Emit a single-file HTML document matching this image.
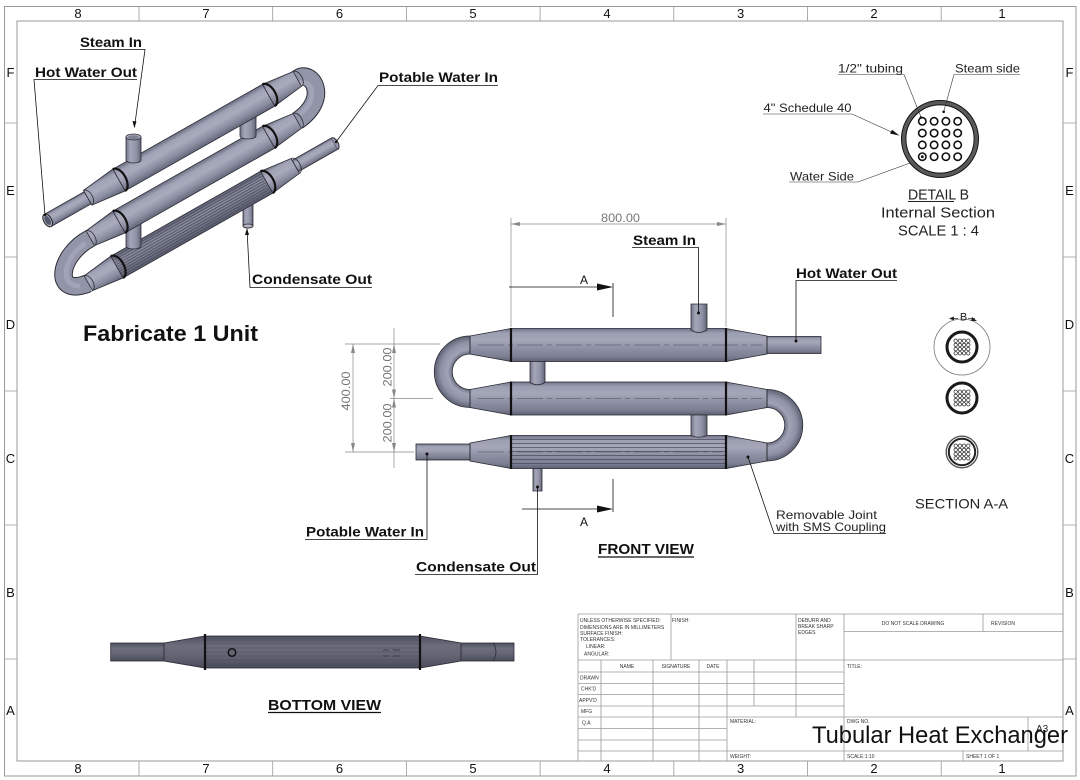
<!DOCTYPE html>
<html><head><meta charset="utf-8"><style>
html,body{margin:0;padding:0;background:#fff;}
svg{display:block;}
text{font-family:"Liberation Sans",sans-serif;}
.b{font-weight:bold;font-size:14px;fill:#111;}
.t{font-size:5px;fill:#333;}
.dim{font-size:12px;fill:#777;}
.ln{stroke:#111;stroke-width:0.8;fill:none;}
.gl{stroke:#999;stroke-width:0.8;fill:none;}
.tb{stroke:#9a9a9a;stroke-width:0.8;fill:none;}
.pk{stroke:#2b2c35;stroke-width:0.8;}
</style></head><body>
<svg width="1080" height="780" viewBox="0 0 1080 780" xmlns="http://www.w3.org/2000/svg">
<defs>
 <linearGradient id="gh" x1="0" y1="0" x2="0" y2="1">
  <stop offset="0" stop-color="#72758a"/><stop offset="0.14" stop-color="#9c9eb1"/>
  <stop offset="0.35" stop-color="#a5a7b9"/><stop offset="0.6" stop-color="#8e91a4"/>
  <stop offset="0.85" stop-color="#7c7f92"/><stop offset="1" stop-color="#5e6172"/>
 </linearGradient>
 <linearGradient id="gv" x1="0" y1="0" x2="1" y2="0">
  <stop offset="0" stop-color="#72758a"/><stop offset="0.3" stop-color="#a5a7b9"/>
  <stop offset="0.7" stop-color="#8e91a4"/><stop offset="1" stop-color="#606375"/>
 </linearGradient>
 <linearGradient id="gi" x1="0" y1="0" x2="0" y2="1">
  <stop offset="0" stop-color="#6a6d80"/><stop offset="0.2" stop-color="#a0a2b5"/>
  <stop offset="0.45" stop-color="#a9abbd"/><stop offset="0.75" stop-color="#8a8da0"/>
  <stop offset="1" stop-color="#636679"/>
 </linearGradient>
 <linearGradient id="gf" x1="0" y1="0" x2="0" y2="1">
  <stop offset="0" stop-color="#5d6072"/><stop offset="0.3" stop-color="#8a8c9f"/>
  <stop offset="0.6" stop-color="#7b7e91"/><stop offset="1" stop-color="#575a6b"/>
 </linearGradient>
 <linearGradient id="gd" x1="0" y1="0" x2="0" y2="1">
  <stop offset="0" stop-color="#4e5060"/><stop offset="0.3" stop-color="#6c6e7d"/>
  <stop offset="0.6" stop-color="#646675"/><stop offset="1" stop-color="#4a4c5a"/>
 </linearGradient>
 <radialGradient id="rgL" gradientUnits="userSpaceOnUse" cx="470" cy="371.75" r="35.75">
  <stop offset="0.5" stop-color="#6f7285"/><stop offset="0.62" stop-color="#a0a2b5"/>
  <stop offset="0.82" stop-color="#8f92a5"/><stop offset="1" stop-color="#5e6172"/>
 </radialGradient>
 <radialGradient id="rgR" gradientUnits="userSpaceOnUse" cx="767" cy="425.25" r="35.75">
  <stop offset="0.5" stop-color="#6f7285"/><stop offset="0.62" stop-color="#a0a2b5"/>
  <stop offset="0.82" stop-color="#8f92a5"/><stop offset="1" stop-color="#5e6172"/>
 </radialGradient>
</defs>

<!-- ========== BORDER ========== -->
<rect x="4.5" y="6.5" width="1071.5" height="769.5" fill="none" stroke="#999" stroke-width="1"/>
<rect x="17" y="21" width="1046" height="740" fill="none" stroke="#999" stroke-width="1"/>
<g class="gl">
 <path d="M139,6.5V21M272.7,6.5V21M406.4,6.5V21M540.1,6.5V21M673.8,6.5V21M807.5,6.5V21M941.2,6.5V21"/>
 <path d="M139,761V776M272.7,761V776M406.4,761V776M540.1,761V776M673.8,761V776M807.5,761V776M941.2,761V776"/>
 <path d="M4.5,123H17M4.5,257H17M4.5,391H17M4.5,525H17M4.5,659H17"/>
 <path d="M1063,123H1076M1063,257H1076M1063,391H1076M1063,525H1076M1063,659H1076"/>
</g>
<g font-size="13" fill="#111" text-anchor="middle">
 <text x="78" y="18">8</text><text x="206" y="18">7</text><text x="339.5" y="18">6</text><text x="473" y="18">5</text>
 <text x="607" y="18">4</text><text x="740.6" y="18">3</text><text x="874" y="18">2</text><text x="1002" y="18">1</text>
 <text x="78" y="773">8</text><text x="206" y="773">7</text><text x="339.5" y="773">6</text><text x="473" y="773">5</text>
 <text x="607" y="773">4</text><text x="740.6" y="773">3</text><text x="874" y="773">2</text><text x="1002" y="773">1</text>
 <text x="10.5" y="77">F</text><text x="10.5" y="195">E</text><text x="10.5" y="329">D</text>
 <text x="10.5" y="463">C</text><text x="10.5" y="597">B</text><text x="10.5" y="715">A</text>
 <text x="1069.5" y="77">F</text><text x="1069.5" y="195">E</text><text x="1069.5" y="329">D</text>
 <text x="1069.5" y="463">C</text><text x="1069.5" y="597">B</text><text x="1069.5" y="715">A</text>
</g>

<!-- ========== ISOMETRIC VIEW ========== -->
<!-- condensate nozzle (under bottom pipe) -->
<path d="M243,195 L243,226 A5,2 0 0 0 253,226 L253,195 Z" fill="url(#gv)" class="pk"/>
<ellipse cx="248" cy="226" rx="5" ry="2" fill="#b4b6c5" stroke="#2b2c35" stroke-width="0.8"/>
<!-- bends -->
<path d="M297.4,78.9 C310,68 332,97 297.4,120.9" fill="none" stroke="#2b2c35" stroke-width="18.5"/>
<path d="M297.4,78.9 C310,68 332,97 297.4,120.9" fill="none" stroke="#9294a8" stroke-width="16.5"/>
<path d="M299,84 C309,77 322,97 300,114" fill="none" stroke="#a8aabc" stroke-width="5" opacity="0.7"/>
<path d="M90.3,238.3 C58,255 52,298 88.3,283.3" fill="none" stroke="#2b2c35" stroke-width="18.5"/>
<path d="M90.3,238.3 C58,255 52,298 88.3,283.3" fill="none" stroke="#9294a8" stroke-width="16.5"/>
<path d="M86,243 C64,256 58,286 80,286" fill="none" stroke="#a8aabc" stroke-width="5" opacity="0.7"/>

<!-- bottom (finned) pipe -->
<g transform="translate(117,267) rotate(-29.54)">
 <polygon points="-33,-8.5 0,-12.5 0,12.5 -33,8.5" fill="url(#gi)" class="pk"/>
 <rect x="0" y="-12.5" width="172" height="25" fill="url(#gf)" class="pk"/>
 <g stroke="#4a4c5a" stroke-width="0.7">
  <path d="M1,-10H171M1,-7.5H171M1,-5H171M1,-2.5H171M1,0H171M1,2.5H171M1,5H171M1,7.5H171M1,10H171"/>
 </g>
 <polygon points="172,-12.5 205,-8.5 205,8.5 172,12.5" fill="url(#gi)" class="pk"/>
 <rect x="205" y="-6.5" width="45" height="13" fill="url(#gi)" class="pk"/>
 <path d="M250,-6.5 A3.7,6.5 0 0 1 250,6.5" fill="#9597aa" stroke="#2b2c35" stroke-width="1"/>
 <path d="M0,-12.5 A7,12.5 0 0 1 0,12.5" fill="none" stroke="#111" stroke-width="2.2"/>
 <path d="M172,-12.5 A7,12.5 0 0 1 172,12.5" fill="none" stroke="#111" stroke-width="2.2"/>
 <path d="M-33,-8.5 A4.9,8.5 0 0 1 -33,8.5" fill="none" stroke="#2b2c35" stroke-width="0.8"/>
 <path d="M205,-8.5 A4.9,8.5 0 0 1 205,8.5" fill="none" stroke="#2b2c35" stroke-width="0.8"/>
</g>
<!-- near nozzle middle-bottom -->
<path d="M126,218 L126,246 A7.5,3 0 0 0 141,246 L141,218 Z" fill="url(#gv)" class="pk"/>
<!-- middle pipe -->
<g transform="translate(119,222) rotate(-29.54)">
 <polygon points="-33,-8.5 0,-12.5 0,12.5 -33,8.5" fill="url(#gi)" class="pk"/>
 <rect x="0" y="-12.5" width="172" height="25" fill="url(#gi)" class="pk"/>
 <polygon points="172,-12.5 205,-8.5 205,8.5 172,12.5" fill="url(#gi)" class="pk"/>
 <path d="M0,-12.5 A7,12.5 0 0 1 0,12.5" fill="none" stroke="#111" stroke-width="2.2"/>
 <path d="M172,-12.5 A7,12.5 0 0 1 172,12.5" fill="none" stroke="#111" stroke-width="2.2"/>
 <path d="M-33,-8.5 A4.9,8.5 0 0 1 -33,8.5" fill="none" stroke="#2b2c35" stroke-width="0.8"/>
 <path d="M205,-8.5 A4.9,8.5 0 0 1 205,8.5" fill="none" stroke="#2b2c35" stroke-width="0.8"/>
</g>
<!-- far nozzle upper-middle -->
<path d="M240,112 L240,136 A8,3 0 0 0 256,136 L256,112 Z" fill="url(#gv)" class="pk"/>
<!-- upper pipe -->
<g transform="translate(119,180) rotate(-29.54)">
 <rect x="-82" y="-7" width="46" height="14" fill="url(#gi)" class="pk"/>
 <polygon points="-36,-8.5 0,-12.5 0,12.5 -36,8.5" fill="url(#gi)" class="pk"/>
 <rect x="0" y="-12.5" width="172" height="25" fill="url(#gi)" class="pk"/>
 <polygon points="172,-12.5 205,-8.5 205,8.5 172,12.5" fill="url(#gi)" class="pk"/>
 <path d="M0,-12.5 A7,12.5 0 0 1 0,12.5" fill="none" stroke="#111" stroke-width="2.2"/>
 <path d="M172,-12.5 A7,12.5 0 0 1 172,12.5" fill="none" stroke="#111" stroke-width="2.2"/>
 <path d="M-36,-8.5 A4.9,8.5 0 0 1 -36,8.5" fill="none" stroke="#2b2c35" stroke-width="0.8"/>
 <path d="M205,-8.5 A4.9,8.5 0 0 1 205,8.5" fill="none" stroke="#2b2c35" stroke-width="0.8"/>
 <ellipse cx="-82" cy="0" rx="4" ry="7" fill="#a8aabb" stroke="#222" stroke-width="1"/>
 <ellipse cx="-82" cy="0" rx="2.6" ry="5" fill="#55576a"/>
</g>
<!-- steam nozzle -->
<path d="M126,137 L126,160 A7.5,3 0 0 0 141,160 L141,137 Z" fill="url(#gv)" class="pk"/>
<ellipse cx="133.5" cy="137" rx="7.5" ry="3" fill="#b5b7c7" stroke="#2b2c35" stroke-width="0.8"/>
<ellipse cx="133.5" cy="137.3" rx="5.8" ry="2.1" fill="#7e8194"/>

<!-- iso labels -->
<text class="b" x="80" y="47" textLength="62" lengthAdjust="spacingAndGlyphs">Steam In</text>
<path class="ln" d="M80,49.5H145L134.5,127"/>
<polygon points="132.5,121 136.5,121.5 134.3,128" fill="#111"/>
<text class="b" x="35" y="77" textLength="102" lengthAdjust="spacingAndGlyphs">Hot Water Out</text>
<path class="ln" d="M137,79.5H34L45,215"/>
<circle cx="45" cy="215" r="1.2" fill="#111"/>
<text class="b" x="379" y="82" textLength="119" lengthAdjust="spacingAndGlyphs">Potable Water In</text>
<path class="ln" d="M498,85.5H378L336,142"/>
<circle cx="336" cy="142" r="1.2" fill="#111"/>
<text class="b" x="252" y="284" textLength="120" lengthAdjust="spacingAndGlyphs">Condensate Out</text>
<path class="ln" d="M372,287.5H250L247,229"/>
<polygon points="245,235 249,235 247,228" fill="#111"/>
<text x="83" y="341" font-weight="bold" font-size="22" fill="#111" textLength="175" lengthAdjust="spacingAndGlyphs">Fabricate 1 Unit</text>

<!-- ========== FRONT VIEW ========== -->
<!-- dimension 800 -->
<g stroke="#888" stroke-width="0.7" fill="none">
 <path d="M511,218V327M726,218V327M511,224H726"/>
 <path d="M345,344H440M345,452H414M390,398.5H433"/>
 <path d="M353,344V452M394,328V468"/>
</g>
<g fill="#888">
 <polygon points="511,224 520,222 520,226"/><polygon points="726,224 717,222 717,226"/>
 <polygon points="353,344 351,353 355,353"/><polygon points="353,452 351,443 355,443"/>
 <polygon points="394,344 392,353 396,353"/><polygon points="394,398.5 392,389.5 396,389.5"/>
 <polygon points="394,398.5 392,407.5 396,407.5"/><polygon points="394,452 392,443 396,443"/>
</g>
<text class="dim" x="620.5" y="222" text-anchor="middle" textLength="39" lengthAdjust="spacingAndGlyphs">800.00</text>
<text class="dim" transform="translate(350,391) rotate(-90)" text-anchor="middle" textLength="39" lengthAdjust="spacingAndGlyphs">400.00</text>
<text class="dim" transform="translate(391.5,367) rotate(-90)" text-anchor="middle" textLength="39" lengthAdjust="spacingAndGlyphs">200.00</text>
<text class="dim" transform="translate(391.5,423) rotate(-90)" text-anchor="middle" textLength="39" lengthAdjust="spacingAndGlyphs">200.00</text>

<!-- section lines -->
<path class="ln" d="M509,287H603M613,283V317M522,509H603M613,479V512" stroke-width="1"/>
<polygon points="597,283.5 613,287 597,290.5" fill="#111"/>
<polygon points="597,505.5 613,509 597,512.5" fill="#111"/>
<text x="584" y="284" font-size="12" text-anchor="middle" fill="#111">A</text>
<text x="584" y="526" font-size="12" text-anchor="middle" fill="#111">A</text>

<!-- bends -->
<path d="M470,336 A35.75,35.75 0 0 0 470,407.5 L470,389.5 A17.75,17.75 0 0 1 470,354 Z" fill="url(#rgL)" class="pk"/>
<path d="M767,389.5 A35.75,35.75 0 0 1 767,461 L767,443 A17.75,17.75 0 0 0 767,407.5 Z" fill="url(#rgR)" class="pk"/>
<!-- top pipe -->
<polygon points="470,336 511,328.5 511,361.5 470,354" fill="url(#gh)" class="pk"/>
<rect x="511" y="328.5" width="215" height="33" fill="url(#gh)" class="pk"/>
<polygon points="726,328.5 767,336 767,354 726,361.5" fill="url(#gh)" class="pk"/>
<rect x="767" y="336.5" width="54" height="17" fill="url(#gh)" class="pk"/>
<!-- middle pipe -->
<polygon points="470,389.5 511,382 511,415 470,407.5" fill="url(#gh)" class="pk"/>
<rect x="511" y="382" width="215" height="33" fill="url(#gh)" class="pk"/>
<polygon points="726,382 767,389.5 767,407.5 726,415" fill="url(#gh)" class="pk"/>
<!-- bottom pipe -->
<rect x="416" y="444" width="54" height="16" fill="url(#gh)" class="pk"/>
<polygon points="470,443 511,435.5 511,468.5 470,461" fill="url(#gh)" class="pk"/>
<rect x="511" y="435.5" width="215" height="33" fill="url(#gh)" class="pk"/>
<g stroke="#3f4150" stroke-width="0.8" opacity="0.85">
 <path d="M512,439.5H725M512,443.5H725M512,447.5H725M512,451.5H725M512,455.5H725M512,459.5H725M512,463.5H725"/>
</g>
<polygon points="726,435.5 767,443 767,461 726,468.5" fill="url(#gh)" class="pk"/>
<!-- centerlines -->
<g stroke="#4a4b57" stroke-width="0.6" stroke-dasharray="26 4 5 4" fill="none">
 <path d="M478,345H762M478,398.5H762M478,452H722"/>
</g>
<!-- joints -->
<g stroke="#111" stroke-width="2.2">
 <path d="M511,328V362M726,328V362M511,381.5V415.5M726,381.5V415.5M511,435V469M726,435V469"/>
</g>
<g stroke="#2b2c35" stroke-width="0.8">
 <path d="M470,336V354M767,336V354M470,389.5V407.5M767,389.5V407.5M470,443V461M767,443V461"/>
</g>
<!-- nozzles -->
<path d="M691,304 L691,330 Q699,335 707,330 L707,304 Z" fill="url(#gv)" class="pk"/>
<path d="M530,361.5 L530,382.5 Q537.5,387 545,382.5 L545,361.5 Z" fill="url(#gv)" class="pk"/>
<path d="M691,415 L691,435.5 Q699,439 707,435.5 L707,415 Z" fill="url(#gv)" class="pk"/>
<path d="M533,468.5 L533,491 L542,491 L542,468.5 Z" fill="url(#gv)" class="pk"/>

<!-- front labels -->
<text class="b" x="633" y="245" textLength="63" lengthAdjust="spacingAndGlyphs">Steam In</text>
<path class="ln" d="M632,247.5H698.5V313"/>
<circle cx="698.5" cy="313" r="1.5" fill="#111"/>
<text class="b" x="796" y="278" textLength="101" lengthAdjust="spacingAndGlyphs">Hot Water Out</text>
<path class="ln" d="M897,280.5H796V341"/>
<circle cx="796" cy="341" r="1.5" fill="#111"/>
<text class="b" x="306" y="536.5" textLength="118" lengthAdjust="spacingAndGlyphs">Potable Water In</text>
<path class="ln" d="M305,539.5H427V454"/>
<circle cx="427" cy="454" r="1.5" fill="#111"/>
<text class="b" x="416" y="571.5" textLength="120" lengthAdjust="spacingAndGlyphs">Condensate Out</text>
<path class="ln" d="M415,574.5H537.5V487"/>
<circle cx="537.5" cy="487" r="1.5" fill="#111"/>
<text x="776" y="519" font-size="12" fill="#222" textLength="101" lengthAdjust="spacingAndGlyphs">Removable Joint</text>
<text x="776" y="531" font-size="12" fill="#222" textLength="110" lengthAdjust="spacingAndGlyphs">with SMS Coupling</text>
<path class="ln" d="M886,533.5H774L748,457" stroke-width="0.6"/>
<circle cx="748" cy="457" r="1.5" fill="#111"/>
<text x="598" y="554" font-weight="bold" font-size="15" fill="#111" textLength="96" lengthAdjust="spacingAndGlyphs">FRONT VIEW</text>
<path d="M598,557H694" stroke="#111" stroke-width="1.2"/>

<!-- ========== DETAIL B ========== -->
<circle cx="940" cy="139" r="36.3" fill="none" stroke="#5a5a5a" stroke-width="4.4"/>
<circle cx="940" cy="139" r="38.5" fill="none" stroke="#111" stroke-width="1"/>
<circle cx="940" cy="139" r="34.1" fill="none" stroke="#111" stroke-width="1"/>
<g fill="none" stroke="#111" stroke-width="1.6">
 <circle cx="922.3" cy="121.3" r="3.7"/><circle cx="934.1" cy="121.3" r="3.7"/><circle cx="945.9" cy="121.3" r="3.7"/><circle cx="957.7" cy="121.3" r="3.7"/>
 <circle cx="922.3" cy="133.1" r="3.7"/><circle cx="934.1" cy="133.1" r="3.7"/><circle cx="945.9" cy="133.1" r="3.7"/><circle cx="957.7" cy="133.1" r="3.7"/>
 <circle cx="922.3" cy="144.9" r="3.7"/><circle cx="934.1" cy="144.9" r="3.7"/><circle cx="945.9" cy="144.9" r="3.7"/><circle cx="957.7" cy="144.9" r="3.7"/>
 <circle cx="922.3" cy="156.7" r="3.7"/><circle cx="934.1" cy="156.7" r="3.7"/><circle cx="945.9" cy="156.7" r="3.7"/><circle cx="957.7" cy="156.7" r="3.7"/>
</g>
<circle cx="922.3" cy="156.7" r="1.4" fill="#111"/>
<g font-size="12" fill="#222">
 <text x="838" y="72.5" textLength="65" lengthAdjust="spacingAndGlyphs">1/2" tubing</text>
 <text x="955" y="72.5" textLength="65" lengthAdjust="spacingAndGlyphs">Steam side</text>
 <text x="763.5" y="112" textLength="88" lengthAdjust="spacingAndGlyphs">4" Schedule 40</text>
 <text x="790" y="180.5" textLength="64" lengthAdjust="spacingAndGlyphs">Water Side</text>
</g>
<g stroke="#333" stroke-width="0.6" fill="none">
 <path d="M838,74.5H904L921,117"/>
 <path d="M1020,74.5H954L943.7,111.6"/>
 <path d="M763,114H852L896,134"/>
 <path d="M789,182H858L910,163"/>
</g>
<circle cx="921" cy="117.5" r="1.3" fill="#111"/>
<circle cx="943.7" cy="111.8" r="1.3" fill="#111"/>
<polygon points="899.5,135.6 890,133.5 892,129.8" fill="#111"/>
<g font-size="15" fill="#222" text-anchor="middle">
 <text x="938.5" y="199.5" textLength="61" lengthAdjust="spacingAndGlyphs">DETAIL B</text>
 <text x="938" y="217.5" textLength="114" lengthAdjust="spacingAndGlyphs">Internal Section</text>
 <text x="938.5" y="235.5" textLength="81" lengthAdjust="spacingAndGlyphs">SCALE 1 : 4</text>
</g>
<path d="M908,201.5H954" stroke="#222" stroke-width="0.9"/>

<!-- ========== SECTION A-A ========== -->
<circle cx="962" cy="347" r="28" fill="none" stroke="#777" stroke-width="0.8"/>
<text x="963.5" y="320.5" font-size="11" fill="#222" text-anchor="middle">B</text>
<path d="M950,318.5H958M968,318.5H975" stroke="#333" stroke-width="0.8"/>
<polygon points="949,318.5 954,316.5 954,320.5" fill="#222"/>
<polygon points="977,321 972,317 971,321" fill="#222"/>
<g id="s1">
 <circle cx="962" cy="347" r="15" fill="#fff" stroke="#1a1a1a" stroke-width="3"/>
</g>
<circle cx="962" cy="398" r="15" fill="#fff" stroke="#1a1a1a" stroke-width="3"/>
<circle cx="962" cy="452" r="15.8" fill="#fff" stroke="#555" stroke-width="1.4"/>
<circle cx="962" cy="452" r="13.2" fill="#fff" stroke="#222" stroke-width="2"/>
<g fill="none" stroke="#333" stroke-width="0.8">
 <circle cx="955.7" cy="340.7" r="1.7"/><circle cx="959.9" cy="340.7" r="1.7"/><circle cx="964.1" cy="340.7" r="1.7"/><circle cx="968.3" cy="340.7" r="1.7"/>
 <circle cx="955.7" cy="344.9" r="1.7"/><circle cx="959.9" cy="344.9" r="1.7"/><circle cx="964.1" cy="344.9" r="1.7"/><circle cx="968.3" cy="344.9" r="1.7"/>
 <circle cx="955.7" cy="349.1" r="1.7"/><circle cx="959.9" cy="349.1" r="1.7"/><circle cx="964.1" cy="349.1" r="1.7"/><circle cx="968.3" cy="349.1" r="1.7"/>
 <circle cx="955.7" cy="353.3" r="1.7"/><circle cx="959.9" cy="353.3" r="1.7"/><circle cx="964.1" cy="353.3" r="1.7"/><circle cx="968.3" cy="353.3" r="1.7"/>
 <circle cx="955.7" cy="391.7" r="1.7"/><circle cx="959.9" cy="391.7" r="1.7"/><circle cx="964.1" cy="391.7" r="1.7"/><circle cx="968.3" cy="391.7" r="1.7"/>
 <circle cx="955.7" cy="395.9" r="1.7"/><circle cx="959.9" cy="395.9" r="1.7"/><circle cx="964.1" cy="395.9" r="1.7"/><circle cx="968.3" cy="395.9" r="1.7"/>
 <circle cx="955.7" cy="400.1" r="1.7"/><circle cx="959.9" cy="400.1" r="1.7"/><circle cx="964.1" cy="400.1" r="1.7"/><circle cx="968.3" cy="400.1" r="1.7"/>
 <circle cx="955.7" cy="404.3" r="1.7"/><circle cx="959.9" cy="404.3" r="1.7"/><circle cx="964.1" cy="404.3" r="1.7"/><circle cx="968.3" cy="404.3" r="1.7"/>
 <circle cx="955.7" cy="445.7" r="1.7"/><circle cx="959.9" cy="445.7" r="1.7"/><circle cx="964.1" cy="445.7" r="1.7"/><circle cx="968.3" cy="445.7" r="1.7"/>
 <circle cx="955.7" cy="449.9" r="1.7"/><circle cx="959.9" cy="449.9" r="1.7"/><circle cx="964.1" cy="449.9" r="1.7"/><circle cx="968.3" cy="449.9" r="1.7"/>
 <circle cx="955.7" cy="454.1" r="1.7"/><circle cx="959.9" cy="454.1" r="1.7"/><circle cx="964.1" cy="454.1" r="1.7"/><circle cx="968.3" cy="454.1" r="1.7"/>
 <circle cx="955.7" cy="458.3" r="1.7"/><circle cx="959.9" cy="458.3" r="1.7"/><circle cx="964.1" cy="458.3" r="1.7"/><circle cx="968.3" cy="458.3" r="1.7"/>
</g>
<text x="915" y="508.5" font-size="14" fill="#222" textLength="93" lengthAdjust="spacingAndGlyphs">SECTION A-A</text>

<!-- ========== BOTTOM VIEW ========== -->
<rect x="110.7" y="643" width="53.3" height="18" fill="url(#gd)" class="pk"/>
<polygon points="164,643 205,636 205,668 164,661" fill="url(#gd)" class="pk"/>
<rect x="205" y="636" width="215" height="32" fill="url(#gd)" class="pk"/>
<g stroke="#4a4c5a" stroke-width="0.6">
 <path d="M206,640H419M206,644H419M206,648H419M206,652H419M206,656H419M206,660H419M206,664H419"/>
</g>
<polygon points="420,636 461,643 461,661 420,668" fill="url(#gd)" class="pk"/>
<rect x="461" y="643" width="53" height="18" fill="url(#gd)" class="pk"/>
<path d="M493,643 Q499,652 493,661" fill="none" stroke="#2b2c35" stroke-width="0.8"/>
<path d="M205,634V670M420,634V670" stroke="#111" stroke-width="2.2"/>
<circle cx="232" cy="652.5" r="3.8" fill="none" stroke="#111" stroke-width="1.5"/>
<path d="M383,650H389M393,650H400M383,656H389M393,656H400" stroke="#333" stroke-width="0.7"/>
<text x="268" y="710" font-weight="bold" font-size="15" fill="#111" textLength="113" lengthAdjust="spacingAndGlyphs">BOTTOM VIEW</text>
<path d="M268,712.5H381" stroke="#111" stroke-width="1.2"/>

<!-- ========== TITLE BLOCK ========== -->
<g class="tb">
 <path d="M578,614H1063M844,631.5H1063M578,660H1063"/>
 <path d="M578,672H844M578,683.5H844M578,694.5H844M578,706H844"/>
 <path d="M578,717H1063M578,728.5H727M578,740H727M578,751H1063M578,761H1063"/>
 <path d="M578,614V761M601,660V761M653,660V761M699,660V761M727,660V761M754,660V706"/>
 <path d="M796,614V717M844,614V761M671,614V660M983,614V631.5M1028,717V751M963,751V761"/>
</g>
<g class="t">
 <text x="580" y="622">UNLESS OTHERWISE SPECIFIED:</text>
 <text x="580" y="629">DIMENSIONS ARE IN MILLIMETERS</text>
 <text x="580" y="635">SURFACE FINISH:</text>
 <text x="580" y="641">TOLERANCES:</text>
 <text x="586" y="648">LINEAR:</text>
 <text x="584" y="655.5">ANGULAR:</text>
 <text x="672" y="622">FINISH:</text>
 <text x="798" y="622">DEBURR AND</text>
 <text x="798" y="628">BREAK SHARP</text>
 <text x="798" y="634">EDGES</text>
 <text x="913" y="625" text-anchor="middle">DO NOT SCALE DRAWING</text>
 <text x="1003" y="625" text-anchor="middle">REVISION</text>
 <text x="627" y="668" text-anchor="middle">NAME</text>
 <text x="676" y="668" text-anchor="middle">SIGNATURE</text>
 <text x="713" y="668" text-anchor="middle">DATE</text>
 <text x="580" y="679.5">DRAWN</text>
 <text x="581" y="690.5">CHK'D</text>
 <text x="579" y="702">APPV'D</text>
 <text x="581" y="713">MFG</text>
 <text x="582" y="724.5">Q.A</text>
 <text x="847" y="668">TITLE:</text>
 <text x="730" y="723">MATERIAL:</text>
 <text x="847" y="723">DWG NO.</text>
 <text x="730" y="758">WEIGHT:</text>
 <text x="847" y="758">SCALE:1:10</text>
 <text x="966" y="758">SHEET 1 OF 1</text>
</g>
<text x="1036" y="732" font-size="10" fill="#222">A3</text>
<text x="812" y="743" font-size="24" fill="#111" textLength="256" lengthAdjust="spacingAndGlyphs">Tubular Heat Exchanger</text>
</svg>
</body></html>
